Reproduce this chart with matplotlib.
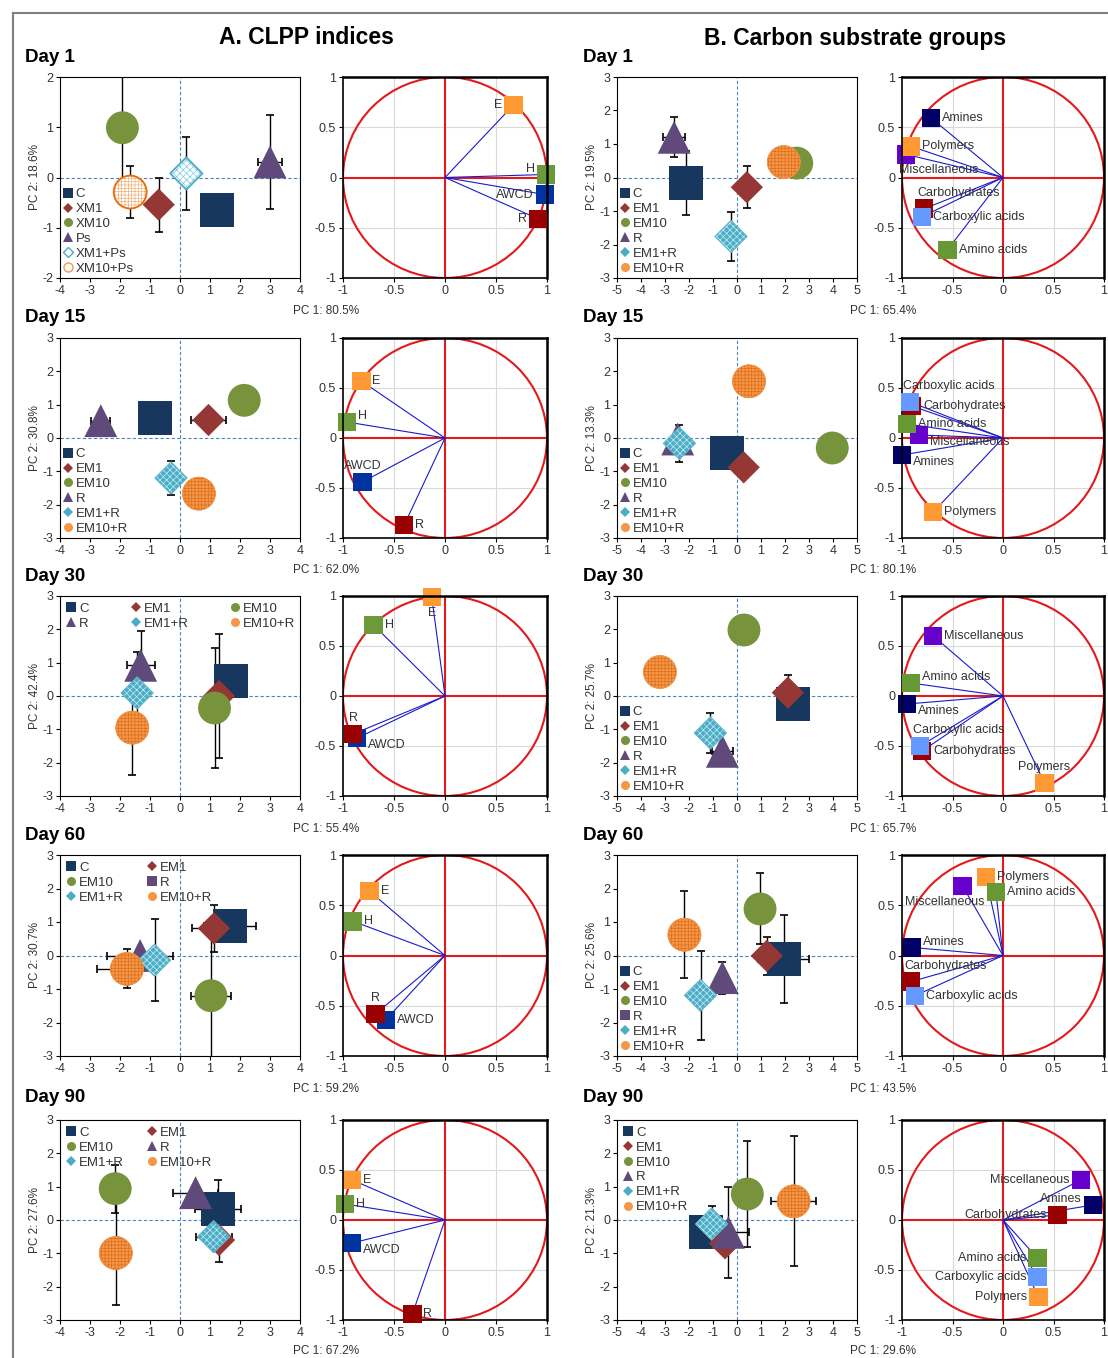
import matplotlib
matplotlib.use('Agg')
import matplotlib.pyplot as plt
from matplotlib.lines import Line2D
from matplotlib.patches import Circle

plt.rcParams['font.family'] = ['Liberation Sans', 'DejaVu Sans']
plt.rcParams['axes.unicode_minus'] = False
plt.rcParams['hatch.linewidth'] = 0.5

W, H = 1108, 1358

# ---------------- data ----------------
days = ['Day 1', 'Day 15', 'Day 30', 'Day 60', 'Day 90']
names_a1 = ['C', 'XM1', 'XM10', 'Ps', 'XM1+Ps', 'XM10+Ps']
names = ['C', 'EM1', 'EM10', 'R', 'EM1+R', 'EM10+R']

pc1_a = ['80.5', '62.0', '55.4', '59.2', '67.2']
pc2_a = ['18.6', '30.8', '42.4', '30.7', '27.6']
pc1_b = ['65.4', '80.1', '65.7', '43.5', '29.6']
pc2_b = ['19.5', '13.3', '25.7', '25.6', '21.3']

# CLPP score plots, columns in treatment order C, EM1, EM10, R, EM1+R, EM10+R
a_x = [[1.24, -0.71, -1.92, 3.00, 0.21, -1.66],
       [-0.83, 0.95, 2.14, -2.64, -0.30, 0.63],
       [1.71, 1.30, 1.15, -1.31, -1.43, -1.59],
       [1.66, 1.13, 1.03, -1.33, -0.85, -1.77],
       [1.26, 1.30, -2.16, 0.52, 1.12, -2.14]]
a_y = [[-0.65, -0.54, 0.99, 0.31, 0.08, -0.29],
       [0.60, 0.54, 1.13, 0.52, -1.20, -1.67],
       [0.44, 0.00, -0.36, 0.92, 0.09, -0.95],
       [0.89, 0.81, -1.20, 0.00, -0.14, -0.40],
       [0.33, -0.60, 0.94, 0.82, -0.50, -0.99]]
a_xerr = [[0, 0, 0, 0.40, 0, 0],
          [0, 0.58, 0, 0.32, 0, 0],
          [0, 0, 0, 0.46, 0, 0],
          [0.87, 0.72, 0.67, 1.10, 0, 1.00],
          [0.76, 0, 0, 0.74, 0.60, 0]]
a_yerr = [[0, 0.54, 1.05, 0.94, 0.72, 0.52],
          [0, 0, 0, 0, 0.51, 0],
          [0, 1.85, 1.80, 1.02, 1.22, 1.42],
          [0, 0.71, 1.90, 0, 1.22, 0.58],
          [0.88, 0.67, 0.72, 0, 0, 1.57]]

# carbon substrate group score plots
b_x = [[-2.11, 0.41, 2.49, -2.62, -0.25, 1.95],
       [-0.43, 0.28, 3.97, -2.47, -2.40, 0.50],
       [2.34, 2.12, 0.29, -0.61, -1.11, -3.21],
       [1.94, 1.24, 0.96, -0.61, -1.52, -2.19],
       [-1.30, -0.50, 0.43, -0.36, -1.06, 2.36]]
b_y = [[-0.17, -0.29, 0.43, 1.20, -1.76, 0.46],
       [-0.45, -0.88, -0.30, -0.03, -0.16, 1.70],
       [-0.23, 0.10, 1.98, -1.66, -1.11, 0.72],
       [-0.11, -0.01, 1.39, -0.66, -1.19, 0.62],
       [-0.37, -0.70, 0.78, -0.37, -0.12, 0.56]]
b_xerr = [[0, 0, 0, 0.46, 0.45, 0],
          [0, 0, 0, 0, 0, 0],
          [0, 0, 0, 0.45, 0, 0],
          [1.05, 0, 0, 0, 0, 0],
          [0.54, 0, 0, 0.84, 0, 0.93]]
b_yerr = [[0.95, 0.62, 0, 0.60, 0.72, 0],
          [0, 0, 0, 0, 0.55, 0],
          [0, 0.52, 0, 0, 0.60, 0],
          [1.31, 0.57, 1.06, 0.48, 1.33, 1.30],
          [0, 0.26, 1.58, 1.36, 0.53, 1.95]]

# loadings
vars_a = ['E', 'H', 'AWCD', 'R']
la_x = [[0.67, 0.99, 0.98, 0.91],
        [-0.82, -0.96, -0.81, -0.40],
        [-0.13, -0.70, -0.86, -0.90],
        [-0.74, -0.90, -0.58, -0.68],
        [-0.91, -0.98, -0.91, -0.32]]
la_y = [[0.72, 0.03, -0.17, -0.41],
        [0.57, 0.16, -0.44, -0.87],
        [0.99, 0.71, -0.42, -0.38],
        [0.64, 0.34, -0.64, -0.58],
        [0.40, 0.16, -0.23, -0.94]]

vars_b = ['Miscellaneous', 'Amines', 'Polymers', 'Carbohydrates',
          'Carboxylic acids', 'Amino acids']
lb_x = [[-0.96, -0.71, -0.91, -0.78, -0.80, -0.55],
        [-0.83, -1.00, -0.69, -0.90, -0.92, -0.95],
        [-0.69, -0.95, 0.41, -0.80, -0.82, -0.91],
        [-0.40, -0.90, -0.17, -0.91, -0.87, -0.07],
        [0.77, 0.89, 0.35, 0.54, 0.34, 0.34]]
lb_y = [[0.23, 0.59, 0.31, -0.31, -0.39, -0.72],
        [0.03, -0.17, -0.74, 0.32, 0.36, 0.14],
        [0.60, -0.08, -0.87, -0.55, -0.50, 0.13],
        [0.69, 0.08, 0.78, -0.26, -0.40, 0.63],
        [0.40, 0.15, -0.77, 0.05, -0.57, -0.38]]

# ---------------- styles / layout ----------------
t_colors = ['#17375e', '#953735', '#77933c', '#604a7b', '#4bacc6', '#f79646']
t_markers = ['s', 'D', 'o', '^', 'D', 'o']
t_sizes = [600, 270, 560, 560, 270, 560]
a_colors = ['#ff9933', '#6c9a3a', '#0033a0', '#990000']
b_colors = ['#6600cc', '#000066', '#ff9933', '#990000', '#6699ff', '#669933']

lab_a = [['l', 'lu', 'l', 'l'],
         ['r', 'ru', 'a', 'r'],
         ['b', 'r', 'rd', 'a'],
         ['r', 'r', 'r', 'a'],
         ['r', 'r', 'rd', 'r']]
lab_b = [['br', 'r', 'r', 'ar', 'r', 'r'],
         ['rd', 'rd', 'r', 'r', 'ar', 'r'],
         ['r', 'rd', 'a', 'r', 'ar', 'ru'],
         ['bl', 'ru', 'r', 'ar', 'r', 'r'],
         ['l', 'lu', 'l', 'l', 'l', 'l']]
offs = {'r': (8, 0, 'left', 'center'), 'l': (-8, 0, 'right', 'center'),
        'ru': (8, 4, 'left', 'center'), 'rd': (8, -5, 'left', 'center'),
        'lu': (-8, 4, 'right', 'center'), 'a': (0, 7, 'center', 'bottom'),
        'b': (0, -7, 'center', 'top'), 'ar': (-5, 7, 'left', 'bottom'),
        'br': (-5, -7, 'left', 'top'), 'bl': (16, -7, 'right', 'top')}

rows = [(77, 278), (338, 538), (596, 796), (855, 1056), (1120, 1320)]
cols = [(60, 300), (343, 547), (617, 857), (902, 1104)]
pc1_y = [311, 570, 829, 1089, 1351]
day_y = [57, 317, 576, 836, 1097]

# legend layout per panel: (loc, ncol, order)
leg_a = [('lower left', 1, [0, 1, 2, 3, 4, 5]),
         ('lower left', 1, [0, 1, 2, 3, 4, 5]),
         ('upper left', 3, [0, 3, 1, 4, 2, 5]),
         ('upper left', 2, [0, 2, 4, 1, 3, 5]),
         ('upper left', 2, [0, 2, 4, 1, 3, 5])]
leg_b = [('lower left', 1, [0, 1, 2, 3, 4, 5])] * 4 + \
        [('upper left', 1, [0, 1, 2, 3, 4, 5])]

TXT = '#333333'
fig = plt.figure(figsize=(W / 100, H / 100), dpi=100)


def box(x0, x1, y0, y1):
    return [x0 / W, 1 - y1 / H, (x1 - x0) / W, (y1 - y0) / H]


def score_panel(ax, xs, ys, xe, ye, labels, xlim, ylim, leg, hollow, r_square):
    ax.axhline(0, color='#4f81bd', lw=0.8, ls=(0, (3, 2)), zorder=1)
    ax.axvline(0, color='#4f81bd', lw=0.8, ls=(0, (3, 2)), zorder=1)
    for i in range(6):
        if xe[i] or ye[i]:
            ax.errorbar(xs[i], ys[i], xerr=xe[i] or None, yerr=ye[i] or None,
                        fmt='none', ecolor='black', elinewidth=1.0,
                        capsize=3, capthick=1.2, zorder=2)
    for i in range(6):
        c = t_colors[i]
        if i >= 4:
            if hollow:
                fc, hc = 'white', ('#7fcbe0' if i == 4 else '#f3b27a')
            else:
                fc, hc = c, ('#c9ecf5' if i == 4 else '#d9701f')
            ax.scatter(xs[i], ys[i], s=t_sizes[i], marker=t_markers[i],
                       facecolor=fc, edgecolor=hc, hatch='xxxxx' if i == 4 else '+++++',
                       lw=0.4, zorder=3 + i)
            ax.scatter(xs[i], ys[i], s=t_sizes[i], marker=t_markers[i],
                       facecolor='none', edgecolor=c if not hollow else
                       ('#4bacc6' if i == 4 else '#e46c0a'),
                       lw=1.3 if hollow else 0.6, zorder=3 + i)
        else:
            ax.scatter(xs[i], ys[i], s=t_sizes[i], marker=t_markers[i],
                       facecolor=c, edgecolor='none', zorder=3 + i)
    ax.set_xlim(*xlim)
    ax.set_ylim(*ylim)
    ax.set_xticks(range(xlim[0], xlim[1] + 1))
    ax.set_yticks(range(ylim[0], ylim[1] + 1))
    ax.tick_params(direction='out', length=3, width=0.8, labelsize=9,
                   colors='black', labelcolor=TXT, pad=2)
    for s in ax.spines.values():
        s.set_linewidth(0.8)
    handles = []
    for i in range(6):
        m = 's' if (i == 3 and r_square) else t_markers[i]
        ms = 6.5 if m in ('s', 'o', '^') else 5.5
        mfc = 'white' if (hollow and i >= 4) else t_colors[i]
        handles.append(Line2D([], [], ls='none', marker=m, ms=ms, mfc=mfc,
                              mec=t_colors[i], mew=1.0 if hollow and i >= 4 else 0))
    loc, ncol, order = leg
    ax.legend([handles[k] for k in order], [labels[k] for k in order],
              loc=loc, ncol=ncol, frameon=False, fontsize=9.5,
              handlelength=0.7, handletextpad=0.25, labelspacing=0.2,
              columnspacing=3.2 if ncol == 3 else 1.8,
              borderaxespad=0.05 if loc == 'lower left' else 0.3,
              borderpad=0.2, labelcolor=TXT)


def load_panel(ax, xs, ys, labels, colors, pos):
    for v in (-0.5, 0.5):
        ax.axhline(v, color='#d9d9d9', lw=0.8, zorder=0)
        ax.axvline(v, color='#d9d9d9', lw=0.8, zorder=0)
    ax.add_patch(Circle((0, 0), 1, fill=False, ec='#e3191c', lw=1.5, zorder=1))
    ax.axhline(0, color='#e3191c', lw=1.5, zorder=1)
    ax.axvline(0, color='#e3191c', lw=1.5, zorder=1)
    for i in range(len(labels)):
        ax.plot([0, xs[i]], [0, ys[i]], color='#1a1acc', lw=0.8, zorder=2)
    for i in range(len(labels)):
        ax.scatter(xs[i], ys[i], s=175, marker='s', color=colors[i],
                   edgecolor='none', zorder=3 + i, clip_on=False)
        dx, dy, ha, va = offs[pos[i]]
        ax.annotate(labels[i], (xs[i], ys[i]), xytext=(dx, dy),
                    textcoords='offset points', ha=ha, va=va, fontsize=9,
                    color=TXT, zorder=10)
    ax.set_xlim(-1, 1)
    ax.set_ylim(-1, 1)
    ticks = [-1, -0.5, 0, 0.5, 1]
    ax.set_xticks(ticks)
    ax.set_yticks(ticks)
    ax.set_xticklabels(['%g' % t for t in ticks])
    ax.set_yticklabels(['%g' % t for t in ticks])
    ax.tick_params(direction='out', length=3, width=0.8, labelsize=9,
                   labelcolor=TXT, pad=2)
    for k, s in ax.spines.items():
        s.set_linewidth(1.8 if k in ('top', 'right') else 1.2)
        s.set_zorder(5)


for r in range(5):
    y0, y1 = rows[r]
    # A. CLPP indices
    ax = fig.add_axes(box(*cols[0], y0, y1))
    score_panel(ax, a_x[r], a_y[r], a_xerr[r], a_yerr[r],
                names_a1 if r == 0 else names, (-4, 4),
                (-2, 2) if r == 0 else (-3, 3), leg_a[r], r == 0, r == 3)
    ax.set_ylabel('PC 2: %s%%' % pc2_a[r], fontsize=8.5, color=TXT, labelpad=1)
    ax = fig.add_axes(box(*cols[1], y0, y1))
    load_panel(ax, la_x[r], la_y[r], vars_a, a_colors, lab_a[r])
    fig.text(326 / W, 1 - pc1_y[r] / H, 'PC 1: %s%%' % pc1_a[r], fontsize=8.5,
             color=TXT, ha='center', va='center')
    fig.text(25 / W, 1 - day_y[r] / H, days[r], fontsize=13.5, fontweight='bold',
             ha='left', va='center')

    # B. Carbon substrate groups
    ax = fig.add_axes(box(*cols[2], y0, y1))
    score_panel(ax, b_x[r], b_y[r], b_xerr[r], b_yerr[r], names, (-5, 5),
                (-3, 3), leg_b[r], False, r == 3)
    ax.set_ylabel('PC 2: %s%%' % pc2_b[r], fontsize=8.5, color=TXT, labelpad=1)
    ax = fig.add_axes(box(*cols[3], y0, y1))
    load_panel(ax, lb_x[r], lb_y[r], vars_b, b_colors, lab_b[r])
    fig.text(883 / W, 1 - pc1_y[r] / H, 'PC 1: %s%%' % pc1_b[r], fontsize=8.5,
             color=TXT, ha='center', va='center')
    fig.text(583 / W, 1 - day_y[r] / H, days[r], fontsize=13.5, fontweight='bold',
             ha='left', va='center')

fig.text(306 / W, 1 - 37 / H, 'A. CLPP indices', fontsize=16.5,
         fontweight='bold', ha='center', va='center')
fig.text(855 / W, 1 - 38 / H, 'B. Carbon substrate groups', fontsize=16.5,
         fontweight='bold', ha='center', va='center')

# outer frame
fig.add_artist(Line2D([13 / W, 1], [1 - 13 / H, 1 - 13 / H],
                      transform=fig.transFigure, color='#7f7f7f', lw=1.5))
fig.add_artist(Line2D([13 / W, 13 / W], [0, 1 - 13 / H],
                      transform=fig.transFigure, color='#7f7f7f', lw=1.5))

fig.savefig('out.png', dpi=100)
